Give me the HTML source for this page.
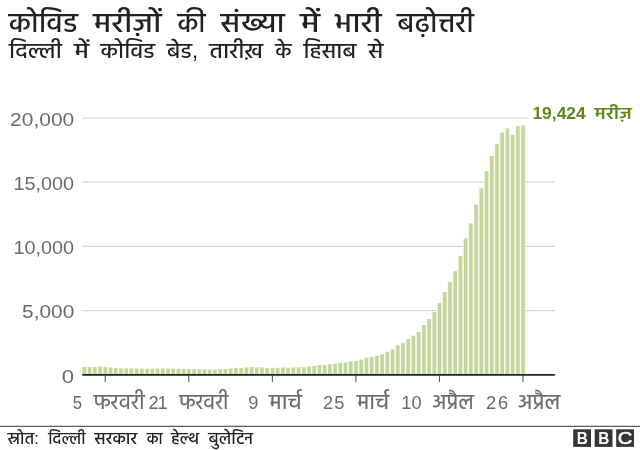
<!DOCTYPE html>
<html lang="hi"><head><meta charset="utf-8"><title>कोविड मरीज़ों की संख्या में भारी बढ़ोत्तरी</title>
<style>html,body{margin:0;padding:0;background:#fff}svg{display:block}</style></head>
<body>
<svg width="640" height="450" viewBox="0 0 640 450" role="img" aria-label="कोविड मरीज़ों की संख्या में भारी बढ़ोत्तरी">
<rect width="640" height="450" fill="#fff"/>
<line x1="82.5" x2="528" y1="118.00" y2="118.00" stroke="#d4d4d4" stroke-width="1.2"/>
<line x1="82.5" x2="555" y1="182.20" y2="182.20" stroke="#d4d4d4" stroke-width="1.2"/>
<line x1="82.5" x2="555" y1="246.40" y2="246.40" stroke="#d4d4d4" stroke-width="1.2"/>
<line x1="82.5" x2="555" y1="310.60" y2="310.60" stroke="#d4d4d4" stroke-width="1.2"/>
<g id="bars-under" fill="#f5fae8">
<rect x="81.74" y="366.70" width="5.42" height="8.10"/>
<rect x="86.96" y="366.70" width="5.42" height="8.10"/>
<rect x="92.18" y="366.90" width="5.42" height="7.90"/>
<rect x="97.41" y="366.40" width="5.42" height="8.40"/>
<rect x="102.63" y="366.90" width="5.42" height="7.90"/>
<rect x="107.85" y="367.30" width="5.42" height="7.50"/>
<rect x="113.07" y="367.90" width="5.42" height="6.90"/>
<rect x="118.29" y="368.10" width="5.42" height="6.70"/>
<rect x="123.52" y="368.20" width="5.42" height="6.60"/>
<rect x="128.74" y="368.20" width="5.42" height="6.60"/>
<rect x="133.96" y="368.30" width="5.42" height="6.50"/>
<rect x="139.18" y="368.40" width="5.42" height="6.40"/>
<rect x="144.40" y="368.50" width="5.42" height="6.30"/>
<rect x="149.63" y="368.50" width="5.42" height="6.30"/>
<rect x="154.85" y="368.30" width="5.42" height="6.50"/>
<rect x="160.07" y="368.30" width="5.42" height="6.50"/>
<rect x="165.29" y="368.40" width="5.42" height="6.40"/>
<rect x="170.51" y="368.50" width="5.42" height="6.30"/>
<rect x="175.74" y="368.60" width="5.42" height="6.20"/>
<rect x="180.96" y="368.70" width="5.42" height="6.10"/>
<rect x="186.18" y="368.80" width="5.42" height="6.00"/>
<rect x="191.40" y="368.90" width="5.42" height="5.90"/>
<rect x="196.62" y="369.00" width="5.42" height="5.80"/>
<rect x="201.85" y="369.10" width="5.42" height="5.70"/>
<rect x="207.07" y="369.30" width="5.42" height="5.50"/>
<rect x="212.29" y="369.40" width="5.42" height="5.40"/>
<rect x="217.51" y="369.00" width="5.42" height="5.80"/>
<rect x="222.73" y="368.80" width="5.42" height="6.00"/>
<rect x="227.96" y="368.20" width="5.42" height="6.60"/>
<rect x="233.18" y="367.60" width="5.42" height="7.20"/>
<rect x="238.40" y="367.80" width="5.42" height="7.00"/>
<rect x="243.62" y="367.20" width="5.42" height="7.60"/>
<rect x="248.84" y="366.70" width="5.42" height="8.10"/>
<rect x="254.07" y="367.20" width="5.42" height="7.60"/>
<rect x="259.29" y="367.20" width="5.42" height="7.60"/>
<rect x="264.51" y="367.80" width="5.42" height="7.00"/>
<rect x="269.73" y="367.80" width="5.42" height="7.00"/>
<rect x="274.95" y="367.60" width="5.42" height="7.20"/>
<rect x="280.18" y="367.20" width="5.42" height="7.60"/>
<rect x="285.40" y="367.60" width="5.42" height="7.20"/>
<rect x="290.62" y="367.20" width="5.42" height="7.60"/>
<rect x="295.84" y="367.20" width="5.42" height="7.60"/>
<rect x="301.06" y="366.90" width="5.42" height="7.90"/>
<rect x="306.29" y="366.30" width="5.42" height="8.50"/>
<rect x="311.51" y="365.70" width="5.42" height="9.10"/>
<rect x="316.73" y="364.80" width="5.42" height="10.00"/>
<rect x="321.95" y="364.80" width="5.42" height="10.00"/>
<rect x="327.17" y="363.90" width="5.42" height="10.90"/>
<rect x="332.39" y="363.50" width="5.42" height="11.30"/>
<rect x="337.62" y="362.60" width="5.42" height="12.20"/>
<rect x="342.84" y="362.20" width="5.42" height="12.60"/>
<rect x="348.06" y="361.20" width="5.42" height="13.60"/>
<rect x="353.28" y="360.70" width="5.42" height="14.10"/>
<rect x="358.50" y="359.40" width="5.42" height="15.40"/>
<rect x="363.73" y="357.50" width="5.42" height="17.30"/>
<rect x="368.95" y="356.50" width="5.42" height="18.30"/>
<rect x="374.17" y="355.60" width="5.42" height="19.20"/>
<rect x="379.39" y="354.10" width="5.42" height="20.70"/>
<rect x="384.62" y="351.50" width="5.42" height="23.30"/>
<rect x="389.84" y="349.00" width="5.42" height="25.80"/>
<rect x="395.06" y="345.00" width="5.42" height="29.80"/>
<rect x="400.28" y="342.80" width="5.42" height="32.00"/>
<rect x="405.50" y="338.80" width="5.42" height="36.00"/>
<rect x="410.73" y="335.50" width="5.42" height="39.30"/>
<rect x="415.95" y="331.60" width="5.42" height="43.20"/>
<rect x="421.17" y="324.70" width="5.42" height="50.10"/>
<rect x="426.39" y="318.70" width="5.42" height="56.10"/>
<rect x="431.61" y="311.80" width="5.42" height="63.00"/>
<rect x="436.83" y="302.80" width="5.42" height="72.00"/>
<rect x="442.06" y="291.70" width="5.42" height="83.10"/>
<rect x="447.28" y="281.80" width="5.42" height="93.00"/>
<rect x="452.50" y="270.90" width="5.42" height="103.90"/>
<rect x="457.72" y="255.70" width="5.42" height="119.10"/>
<rect x="462.94" y="238.20" width="5.42" height="136.60"/>
<rect x="468.17" y="223.00" width="5.42" height="151.80"/>
<rect x="473.39" y="204.40" width="5.42" height="170.40"/>
<rect x="478.61" y="188.00" width="5.42" height="186.80"/>
<rect x="483.83" y="170.90" width="5.42" height="203.90"/>
<rect x="489.06" y="155.70" width="5.42" height="219.10"/>
<rect x="494.28" y="143.80" width="5.42" height="231.00"/>
<rect x="499.50" y="132.30" width="5.42" height="242.50"/>
<rect x="504.72" y="128.20" width="5.42" height="246.60"/>
<rect x="509.94" y="134.60" width="5.42" height="240.20"/>
<rect x="515.17" y="126.00" width="5.42" height="248.80"/>
<rect x="520.39" y="125.20" width="5.42" height="249.60"/>
</g>
<g id="bars" fill="#c4d59f">
<rect x="82.65" y="367.00" width="3.6" height="7.80"/>
<rect x="87.87" y="367.00" width="3.6" height="7.80"/>
<rect x="93.09" y="367.20" width="3.6" height="7.60"/>
<rect x="98.32" y="366.70" width="3.6" height="8.10"/>
<rect x="103.54" y="367.20" width="3.6" height="7.60"/>
<rect x="108.76" y="367.60" width="3.6" height="7.20"/>
<rect x="113.98" y="368.20" width="3.6" height="6.60"/>
<rect x="119.20" y="368.40" width="3.6" height="6.40"/>
<rect x="124.43" y="368.50" width="3.6" height="6.30"/>
<rect x="129.65" y="368.50" width="3.6" height="6.30"/>
<rect x="134.87" y="368.60" width="3.6" height="6.20"/>
<rect x="140.09" y="368.70" width="3.6" height="6.10"/>
<rect x="145.31" y="368.80" width="3.6" height="6.00"/>
<rect x="150.54" y="368.80" width="3.6" height="6.00"/>
<rect x="155.76" y="368.60" width="3.6" height="6.20"/>
<rect x="160.98" y="368.60" width="3.6" height="6.20"/>
<rect x="166.20" y="368.70" width="3.6" height="6.10"/>
<rect x="171.42" y="368.80" width="3.6" height="6.00"/>
<rect x="176.65" y="368.90" width="3.6" height="5.90"/>
<rect x="181.87" y="369.00" width="3.6" height="5.80"/>
<rect x="187.09" y="369.10" width="3.6" height="5.70"/>
<rect x="192.31" y="369.20" width="3.6" height="5.60"/>
<rect x="197.53" y="369.30" width="3.6" height="5.50"/>
<rect x="202.76" y="369.40" width="3.6" height="5.40"/>
<rect x="207.98" y="369.60" width="3.6" height="5.20"/>
<rect x="213.20" y="369.70" width="3.6" height="5.10"/>
<rect x="218.42" y="369.30" width="3.6" height="5.50"/>
<rect x="223.64" y="369.10" width="3.6" height="5.70"/>
<rect x="228.87" y="368.50" width="3.6" height="6.30"/>
<rect x="234.09" y="367.90" width="3.6" height="6.90"/>
<rect x="239.31" y="368.10" width="3.6" height="6.70"/>
<rect x="244.53" y="367.50" width="3.6" height="7.30"/>
<rect x="249.75" y="367.00" width="3.6" height="7.80"/>
<rect x="254.98" y="367.50" width="3.6" height="7.30"/>
<rect x="260.20" y="367.50" width="3.6" height="7.30"/>
<rect x="265.42" y="368.10" width="3.6" height="6.70"/>
<rect x="270.64" y="368.10" width="3.6" height="6.70"/>
<rect x="275.86" y="367.90" width="3.6" height="6.90"/>
<rect x="281.09" y="367.50" width="3.6" height="7.30"/>
<rect x="286.31" y="367.90" width="3.6" height="6.90"/>
<rect x="291.53" y="367.50" width="3.6" height="7.30"/>
<rect x="296.75" y="367.50" width="3.6" height="7.30"/>
<rect x="301.97" y="367.20" width="3.6" height="7.60"/>
<rect x="307.20" y="366.60" width="3.6" height="8.20"/>
<rect x="312.42" y="366.00" width="3.6" height="8.80"/>
<rect x="317.64" y="365.10" width="3.6" height="9.70"/>
<rect x="322.86" y="365.10" width="3.6" height="9.70"/>
<rect x="328.08" y="364.20" width="3.6" height="10.60"/>
<rect x="333.31" y="363.80" width="3.6" height="11.00"/>
<rect x="338.53" y="362.90" width="3.6" height="11.90"/>
<rect x="343.75" y="362.50" width="3.6" height="12.30"/>
<rect x="348.97" y="361.50" width="3.6" height="13.30"/>
<rect x="354.19" y="361.00" width="3.6" height="13.80"/>
<rect x="359.42" y="359.70" width="3.6" height="15.10"/>
<rect x="364.64" y="357.80" width="3.6" height="17.00"/>
<rect x="369.86" y="356.80" width="3.6" height="18.00"/>
<rect x="375.08" y="355.90" width="3.6" height="18.90"/>
<rect x="380.30" y="354.40" width="3.6" height="20.40"/>
<rect x="385.53" y="351.80" width="3.6" height="23.00"/>
<rect x="390.75" y="349.30" width="3.6" height="25.50"/>
<rect x="395.97" y="345.30" width="3.6" height="29.50"/>
<rect x="401.19" y="343.10" width="3.6" height="31.70"/>
<rect x="406.41" y="339.10" width="3.6" height="35.70"/>
<rect x="411.64" y="335.80" width="3.6" height="39.00"/>
<rect x="416.86" y="331.90" width="3.6" height="42.90"/>
<rect x="422.08" y="325.00" width="3.6" height="49.80"/>
<rect x="427.30" y="319.00" width="3.6" height="55.80"/>
<rect x="432.52" y="312.10" width="3.6" height="62.70"/>
<rect x="437.75" y="303.10" width="3.6" height="71.70"/>
<rect x="442.97" y="292.00" width="3.6" height="82.80"/>
<rect x="448.19" y="282.10" width="3.6" height="92.70"/>
<rect x="453.41" y="271.20" width="3.6" height="103.60"/>
<rect x="458.63" y="256.00" width="3.6" height="118.80"/>
<rect x="463.86" y="238.50" width="3.6" height="136.30"/>
<rect x="469.08" y="223.30" width="3.6" height="151.50"/>
<rect x="474.30" y="204.70" width="3.6" height="170.10"/>
<rect x="479.52" y="188.30" width="3.6" height="186.50"/>
<rect x="484.74" y="171.20" width="3.6" height="203.60"/>
<rect x="489.97" y="156.00" width="3.6" height="218.80"/>
<rect x="495.19" y="144.10" width="3.6" height="230.70"/>
<rect x="500.41" y="132.60" width="3.6" height="242.20"/>
<rect x="505.63" y="128.50" width="3.6" height="246.30"/>
<rect x="510.85" y="134.90" width="3.6" height="239.90"/>
<rect x="516.08" y="126.30" width="3.6" height="248.50"/>
<rect x="521.30" y="125.50" width="3.6" height="249.30"/>
</g>
<line x1="82.3" x2="554.8" y1="374.9" y2="374.9" stroke="#222" stroke-width="1.6"/>
<line x1="105.25" x2="105.25" y1="375" y2="382" stroke="#4a4a4a" stroke-width="1"/>
<line x1="188.80" x2="188.80" y1="375" y2="382" stroke="#4a4a4a" stroke-width="1"/>
<line x1="272.35" x2="272.35" y1="375" y2="382" stroke="#4a4a4a" stroke-width="1"/>
<line x1="355.91" x2="355.91" y1="375" y2="382" stroke="#4a4a4a" stroke-width="1"/>
<line x1="439.46" x2="439.46" y1="375" y2="382" stroke="#4a4a4a" stroke-width="1"/>
<line x1="523.01" x2="523.01" y1="375" y2="382" stroke="#4a4a4a" stroke-width="1"/>
<rect x="573.20" y="429.3" width="17.8" height="17.6" fill="#363636"/>
<rect x="594.70" y="429.3" width="17.8" height="17.6" fill="#363636"/>
<rect x="616.20" y="429.3" width="17.8" height="17.6" fill="#363636"/>
<g id="title">
<text x="8.77" y="31.6" font-family="'Liberation Sans', Hind, 'Noto Sans Devanagari', 'Lohit Devanagari', FreeSans, sans-serif" font-size="27.7" font-weight="500" fill="#222" textLength="69.02" lengthAdjust="spacingAndGlyphs">कोविड</text>
<text x="93.36" y="31.6" font-family="'Liberation Sans', Hind, 'Noto Sans Devanagari', 'Lohit Devanagari', FreeSans, sans-serif" font-size="27.7" font-weight="500" fill="#222" textLength="68.27" lengthAdjust="spacingAndGlyphs">मरीज़ों</text>
<text x="177.48" y="31.6" font-family="'Liberation Sans', Hind, 'Noto Sans Devanagari', 'Lohit Devanagari', FreeSans, sans-serif" font-size="27.7" font-weight="500" fill="#222" textLength="28.09" lengthAdjust="spacingAndGlyphs">की</text>
<text x="220.82" y="31.6" font-family="'Liberation Sans', Hind, 'Noto Sans Devanagari', 'Lohit Devanagari', FreeSans, sans-serif" font-size="27.7" font-weight="500" fill="#222" textLength="63.95" lengthAdjust="spacingAndGlyphs">संख्या</text>
<text x="300.15" y="31.6" font-family="'Liberation Sans', Hind, 'Noto Sans Devanagari', 'Lohit Devanagari', FreeSans, sans-serif" font-size="27.7" font-weight="500" fill="#222" textLength="19.70" lengthAdjust="spacingAndGlyphs">में</text>
<text x="334.49" y="31.6" font-family="'Liberation Sans', Hind, 'Noto Sans Devanagari', 'Lohit Devanagari', FreeSans, sans-serif" font-size="27.7" font-weight="500" fill="#222" textLength="46.91" lengthAdjust="spacingAndGlyphs">भारी</text>
<text x="397.01" y="31.6" font-family="'Liberation Sans', Hind, 'Noto Sans Devanagari', 'Lohit Devanagari', FreeSans, sans-serif" font-size="27.7" font-weight="500" fill="#222" textLength="76.81" lengthAdjust="spacingAndGlyphs">बढ़ोत्तरी</text>
</g>
<g id="subtitle">
<text x="9.03" y="57.6" font-family="'Liberation Sans', Hind, 'Noto Sans Devanagari', 'Lohit Devanagari', FreeSans, sans-serif" font-size="21.5" font-weight="500" fill="#222" textLength="52.76" lengthAdjust="spacingAndGlyphs">दिल्ली</text>
<text x="74.11" y="57.6" font-family="'Liberation Sans', Hind, 'Noto Sans Devanagari', 'Lohit Devanagari', FreeSans, sans-serif" font-size="21.5" font-weight="500" fill="#222" textLength="15.14" lengthAdjust="spacingAndGlyphs">में</text>
<text x="100.52" y="57.6" font-family="'Liberation Sans', Hind, 'Noto Sans Devanagari', 'Lohit Devanagari', FreeSans, sans-serif" font-size="21.5" font-weight="500" fill="#222" textLength="54.54" lengthAdjust="spacingAndGlyphs">कोविड</text>
<text x="166.76" y="57.6" font-family="'Liberation Sans', Hind, 'Noto Sans Devanagari', 'Lohit Devanagari', FreeSans, sans-serif" font-size="21.5" font-weight="500" fill="#222" textLength="31.36" lengthAdjust="spacingAndGlyphs">बेड,</text>
<text x="209.29" y="57.6" font-family="'Liberation Sans', Hind, 'Noto Sans Devanagari', 'Lohit Devanagari', FreeSans, sans-serif" font-size="21.5" font-weight="500" fill="#222" textLength="53.77" lengthAdjust="spacingAndGlyphs">तारीख़</text>
<text x="275.24" y="57.6" font-family="'Liberation Sans', Hind, 'Noto Sans Devanagari', 'Lohit Devanagari', FreeSans, sans-serif" font-size="21.5" font-weight="500" fill="#222" textLength="16.35" lengthAdjust="spacingAndGlyphs">के</text>
<text x="303.53" y="57.6" font-family="'Liberation Sans', Hind, 'Noto Sans Devanagari', 'Lohit Devanagari', FreeSans, sans-serif" font-size="21.5" font-weight="500" fill="#222" textLength="52.82" lengthAdjust="spacingAndGlyphs">हिसाब</text>
<text x="368.30" y="57.6" font-family="'Liberation Sans', Hind, 'Noto Sans Devanagari', 'Lohit Devanagari', FreeSans, sans-serif" font-size="21.5" font-weight="500" fill="#222" textLength="15.18" lengthAdjust="spacingAndGlyphs">से</text>
</g>
<g id="ylab">
<text x="10.12" y="125.7" font-family="'Liberation Sans', Arial, Helvetica, 'DejaVu Sans', sans-serif" font-size="18.6" font-weight="400" fill="#6a6a6a" textLength="64.18" lengthAdjust="spacingAndGlyphs">20,000</text>
<text x="13.40" y="189.9" font-family="'Liberation Sans', Arial, Helvetica, 'DejaVu Sans', sans-serif" font-size="18.6" font-weight="400" fill="#6a6a6a" textLength="60.67" lengthAdjust="spacingAndGlyphs">15,000</text>
<text x="13.40" y="254.1" font-family="'Liberation Sans', Arial, Helvetica, 'DejaVu Sans', sans-serif" font-size="18.6" font-weight="400" fill="#6a6a6a" textLength="60.67" lengthAdjust="spacingAndGlyphs">10,000</text>
<text x="22.14" y="318.3" font-family="'Liberation Sans', Arial, Helvetica, 'DejaVu Sans', sans-serif" font-size="18.6" font-weight="400" fill="#6a6a6a" textLength="52.17" lengthAdjust="spacingAndGlyphs">5,000</text>
<text x="61.87" y="382.5" font-family="'Liberation Sans', Arial, Helvetica, 'DejaVu Sans', sans-serif" font-size="18.6" font-weight="400" fill="#6a6a6a" textLength="12.31" lengthAdjust="spacingAndGlyphs">0</text>
</g>
<g id="xlab">
<text x="72.81" y="408.8" font-family="'Liberation Sans', Arial, Helvetica, 'DejaVu Sans', sans-serif" font-size="18.3" font-weight="400" fill="#6a6a6a" textLength="9.30" lengthAdjust="spacingAndGlyphs">5</text>
<text x="93.74" y="408.9" font-family="'Liberation Sans', Hind, 'Noto Sans Devanagari', 'Lohit Devanagari', FreeSans, sans-serif" font-size="21.5" font-weight="400" fill="#6a6a6a" stroke="#6a6a6a" stroke-width="0.2" textLength="50.83" lengthAdjust="spacingAndGlyphs">फरवरी</text>
<text x="148.62 157.43" y="408.8" font-family="'Liberation Sans', Arial, Helvetica, 'DejaVu Sans', sans-serif" font-size="18.3" font-weight="400" fill="#6a6a6a">21</text>
<text x="179.23" y="408.9" font-family="'Liberation Sans', Hind, 'Noto Sans Devanagari', 'Lohit Devanagari', FreeSans, sans-serif" font-size="21.5" font-weight="400" fill="#6a6a6a" stroke="#6a6a6a" stroke-width="0.2" textLength="49.26" lengthAdjust="spacingAndGlyphs">फरवरी</text>
<text x="248.25" y="408.8" font-family="'Liberation Sans', Arial, Helvetica, 'DejaVu Sans', sans-serif" font-size="18.3" font-weight="400" fill="#6a6a6a" textLength="10.17" lengthAdjust="spacingAndGlyphs">9</text>
<text x="269.02" y="408.9" font-family="'Liberation Sans', Hind, 'Noto Sans Devanagari', 'Lohit Devanagari', FreeSans, sans-serif" font-size="21.5" font-weight="400" fill="#6a6a6a" stroke="#6a6a6a" stroke-width="0.2" textLength="32.86" lengthAdjust="spacingAndGlyphs">मार्च</text>
<text x="323.02 334.23" y="408.8" font-family="'Liberation Sans', Arial, Helvetica, 'DejaVu Sans', sans-serif" font-size="18.3" font-weight="400" fill="#6a6a6a">25</text>
<text x="356.76" y="408.9" font-family="'Liberation Sans', Hind, 'Noto Sans Devanagari', 'Lohit Devanagari', FreeSans, sans-serif" font-size="21.5" font-weight="400" fill="#6a6a6a" stroke="#6a6a6a" stroke-width="0.2" textLength="32.38" lengthAdjust="spacingAndGlyphs">मार्च</text>
<text x="401.18 411.43" y="408.8" font-family="'Liberation Sans', Arial, Helvetica, 'DejaVu Sans', sans-serif" font-size="18.3" font-weight="400" fill="#6a6a6a">10</text>
<text x="432.51" y="408.9" font-family="'Liberation Sans', Hind, 'Noto Sans Devanagari', 'Lohit Devanagari', FreeSans, sans-serif" font-size="21.5" font-weight="400" fill="#6a6a6a" stroke="#6a6a6a" stroke-width="0.2" textLength="41.45" lengthAdjust="spacingAndGlyphs">अप्रैल</text>
<text x="486.05 498.12" y="408.8" font-family="'Liberation Sans', Arial, Helvetica, 'DejaVu Sans', sans-serif" font-size="18.3" font-weight="400" fill="#6a6a6a">26</text>
<text x="518.25" y="408.9" font-family="'Liberation Sans', Hind, 'Noto Sans Devanagari', 'Lohit Devanagari', FreeSans, sans-serif" font-size="21.5" font-weight="400" fill="#6a6a6a" stroke="#6a6a6a" stroke-width="0.2" textLength="42.11" lengthAdjust="spacingAndGlyphs">अप्रैल</text>
</g>
<g id="anno">
<text x="532.41" y="119.4" font-family="'Liberation Sans', Arial, Helvetica, 'DejaVu Sans', sans-serif" font-size="16" font-weight="700" fill="#5b8a1a" textLength="53.32" lengthAdjust="spacingAndGlyphs">19,424</text>
<text x="594.57" y="119.4" font-family="'Liberation Sans', Hind, 'Noto Sans Devanagari', 'Lohit Devanagari', FreeSans, sans-serif" font-size="17" font-weight="600" fill="#5b8a1a" textLength="37.35" lengthAdjust="spacingAndGlyphs">मरीज़</text>
</g>
<g id="footer">
<text x="7.48" y="444.4" font-family="'Liberation Sans', Hind, 'Noto Sans Devanagari', 'Lohit Devanagari', FreeSans, sans-serif" font-size="17.3" font-weight="500" fill="#222" textLength="31.30" lengthAdjust="spacingAndGlyphs">स्रोत:</text>
<text x="48.23" y="444.4" font-family="'Liberation Sans', Hind, 'Noto Sans Devanagari', 'Lohit Devanagari', FreeSans, sans-serif" font-size="17.3" font-weight="500" fill="#222" textLength="37.29" lengthAdjust="spacingAndGlyphs">दिल्ली</text>
<text x="94.50" y="444.4" font-family="'Liberation Sans', Hind, 'Noto Sans Devanagari', 'Lohit Devanagari', FreeSans, sans-serif" font-size="17.3" font-weight="500" fill="#222" textLength="42.72" lengthAdjust="spacingAndGlyphs">सरकार</text>
<text x="146.69" y="444.4" font-family="'Liberation Sans', Hind, 'Noto Sans Devanagari', 'Lohit Devanagari', FreeSans, sans-serif" font-size="17.3" font-weight="500" fill="#222" textLength="15.99" lengthAdjust="spacingAndGlyphs">का</text>
<text x="170.98" y="444.4" font-family="'Liberation Sans', Hind, 'Noto Sans Devanagari', 'Lohit Devanagari', FreeSans, sans-serif" font-size="17.3" font-weight="500" fill="#222" textLength="27.09" lengthAdjust="spacingAndGlyphs">हेल्थ</text>
<text x="208.24" y="444.4" font-family="'Liberation Sans', Hind, 'Noto Sans Devanagari', 'Lohit Devanagari', FreeSans, sans-serif" font-size="17.3" font-weight="500" fill="#222" textLength="44.68" lengthAdjust="spacingAndGlyphs">बुलेटिन</text>
</g>
<g id="bbc">
<text x="576.84" y="444.2" font-family="'Liberation Sans', Arial, Helvetica, 'DejaVu Sans', sans-serif" font-size="16.8" font-weight="700" fill="#fff" textLength="11.06" lengthAdjust="spacingAndGlyphs">B</text>
<text x="598.34" y="444.2" font-family="'Liberation Sans', Arial, Helvetica, 'DejaVu Sans', sans-serif" font-size="16.8" font-weight="700" fill="#fff" textLength="11.06" lengthAdjust="spacingAndGlyphs">B</text>
<text x="617.66" y="444.2" font-family="'Liberation Sans', Arial, Helvetica, 'DejaVu Sans', sans-serif" font-size="16.8" font-weight="400" fill="#fff" stroke="#fff" stroke-width="0.7" textLength="14.50" lengthAdjust="spacingAndGlyphs">C</text>
</g>
<line x1="0" x2="640" y1="426.3" y2="426.3" stroke="#333" stroke-width="1"/>
</svg>
</body></html>
